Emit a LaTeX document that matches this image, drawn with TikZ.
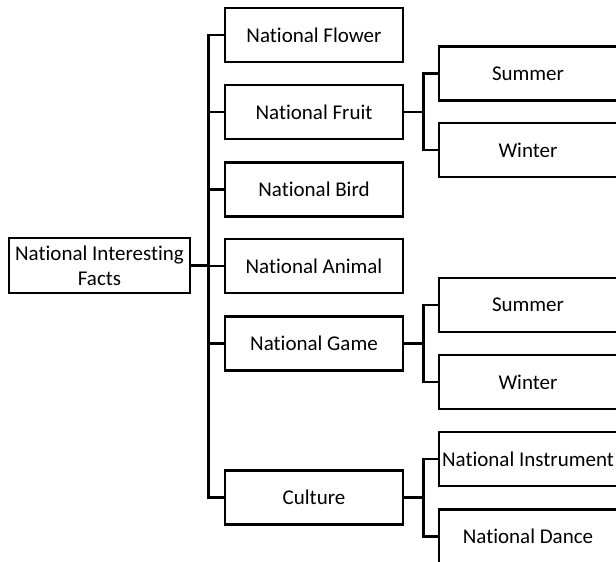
\documentclass[tikz,border=0pt]{standalone}
\usepackage{fontspec}
\setmainfont{Carlito}[Ligatures=NoCommon]
\begin{document}
\begin{tikzpicture}[x=1pt,y=-1pt,
  box/.style={draw, line width=2.7pt, minimum width=178pt, minimum height=54pt,
    inner sep=0pt, align=center, font=\fontsize{21}{25}\selectfont},
  link/.style={line width=2.7pt}]
\useasboundingbox (0,0) rectangle (616,562);
\clip (0,0) rectangle (616,562);

% root
\node[box, minimum width=181pt, minimum height=55pt] (root) at (99.5,265.5) {National Interesting\\Facts};

% first level
\node[box] (flower)  at (314,35)    {National Flower};
\node[box] (fruit)   at (314,112)   {National Fruit};
\node[box] (bird)    at (314,189.5) {National Bird};
\node[box] (animal)  at (314,266)   {National Animal};
\node[box] (game)    at (314,343.5) {National Game};
\node[box] (culture) at (314,497.5) {Culture};

% second level
\node[box] (fsummer) at (528,73.5)  {Summer};
\node[box] (fwinter) at (528,150)   {Winter};
\node[box] (gsummer) at (528,305)   {Summer};
\node[box] (gwinter) at (528,382)   {Winter};
\node[box] (instr)   at (528,459)   {National Instrument};
\node[box] (dance)   at (528,536.5) {National Dance};

% elbow connectors
\draw[link] (root.east) -- ++(17,0) coordinate (trunk);
\foreach \c in {flower,fruit,bird,animal,game,culture}
  \draw[link] (trunk) |- (\c.west);

\draw[link] (fruit.east) -- ++(19,0) coordinate (fj);
\draw[link] (fj) |- (fsummer.west);
\draw[link] (fj) |- (fwinter.west);

\draw[link] (game.east) -- ++(19,0) coordinate (gj);
\draw[link] (gj) |- (gsummer.west);
\draw[link] (gj) |- (gwinter.west);

\draw[link] (culture.east) -- ++(19,0) coordinate (cj);
\draw[link] (cj) |- (instr.west);
\draw[link] (cj) |- (dance.west);
\end{tikzpicture}
\end{document}
